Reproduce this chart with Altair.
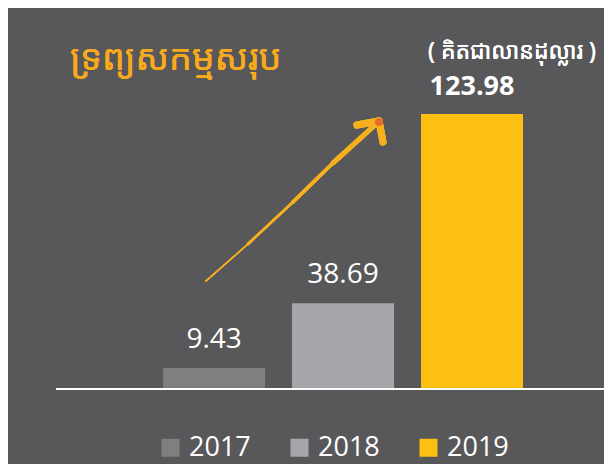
import altair as alt
import pandas as pd

years = ["2017", "2018", "2019"]
values = [9.43, 38.69, 123.98]
colors = ["#7F7F7D", "#A6A7AA", "#FBC012"]
title_text = "ទ្រព្យសកម្មសរុប"
subtitle_text = "( គិតជាលានដុល្លារ )"

df = pd.DataFrame({"year": years, "value": values})

BG = "#58585A"
FONT = "Open Sans"
ARROW = "#F6B01E"

xenc = alt.X("year:N", axis=None,
             scale=alt.Scale(paddingInner=0.209, paddingOuter=0.915, align=0.657))
yscale = alt.Scale(domain=[-33.8, 171.8], nice=False, zero=True)
yenc = alt.Y("value:Q", axis=None, scale=yscale)

base = alt.Chart(df)

bars = base.mark_bar().encode(
    x=xenc,
    y=yenc,
    color=alt.Color("year:N",
                    scale=alt.Scale(domain=years, range=colors),
                    legend=alt.Legend(orient="none", legendX=149, legendY=426,
                                      direction="horizontal", title=None,
                                      symbolType="square", symbolSize=324,
                                      symbolStrokeWidth=0, symbolOpacity=1,
                                      labelFontSize=27, labelFont=FONT,
                                      labelColor="white", labelOffset=5,
                                      columnPadding=35)),
)

baseline = base.transform_aggregate(n="count()").transform_calculate(
    z="0"
).mark_rule(color="white", strokeWidth=2).encode(
    x=alt.value(48), x2=alt.value(596), y=alt.Y("z:Q", scale=yscale, axis=None)
)

labels = base.mark_text(dy=-20, baseline="alphabetic", fontSize=28, font=FONT,
                        color="white").encode(
    x=xenc, y=yenc, text=alt.Text("value:Q", format=".2f")
).transform_filter(alt.datum.year != "2019")

labels_bold = base.mark_text(dy=-19, baseline="alphabetic", fontSize=27, font=FONT,
                             fontWeight="bold", color="white").encode(
    x=xenc, y=yenc, text=alt.Text("value:Q", format=".2f")
).transform_filter(alt.datum.year == "2019")

title = base.mark_text(
    align="left", baseline="middle", fontSize=36, color="#F6AA1C",
    font="Noto Sans Khmer, Khmer OS, Noto Sans", text=title_text
).encode(x=alt.value(62), y=alt.value(51))

subtitle = base.mark_text(
    align="left", baseline="middle", fontSize=23, color="white",
    font="Noto Sans Khmer, Khmer OS, Noto Sans", text=subtitle_text
).encode(x=alt.value(420), y=alt.value(44))

def seg(x1, y1, x2, y2, w):
    return base.mark_rule(color=ARROW, strokeWidth=w, strokeCap="round").encode(
        x=alt.value(x1), y=alt.value(y1), x2=alt.value(x2), y2=alt.value(y2))

# decorative tapering arrow
shaft = [
    seg(198, 273, 240, 236, 1.5),
    seg(240, 236, 285, 194, 2.5),
    seg(285, 194, 325, 155, 3.5),
    seg(325, 155, 367, 117, 5),
]
arm1 = seg(371, 113, 349, 117, 7)
arm2 = seg(371, 113, 375, 134, 7)
tip = base.mark_point(shape="circle", filled=True, color="#E8692A",
                      opacity=0.9, size=55).encode(
    x=alt.value(371), y=alt.value(114))

chart = alt.layer(bars, baseline, labels, labels_bold, title, subtitle,
                  *shaft, arm1, arm2, tip).properties(
    width=596, height=456, background=BG, padding=0,
    autosize=alt.AutoSizeParams(type="none")
).configure_view(strokeWidth=0)

chart.save("out.html", embed_options={"renderer": "svg", "actions": False})
